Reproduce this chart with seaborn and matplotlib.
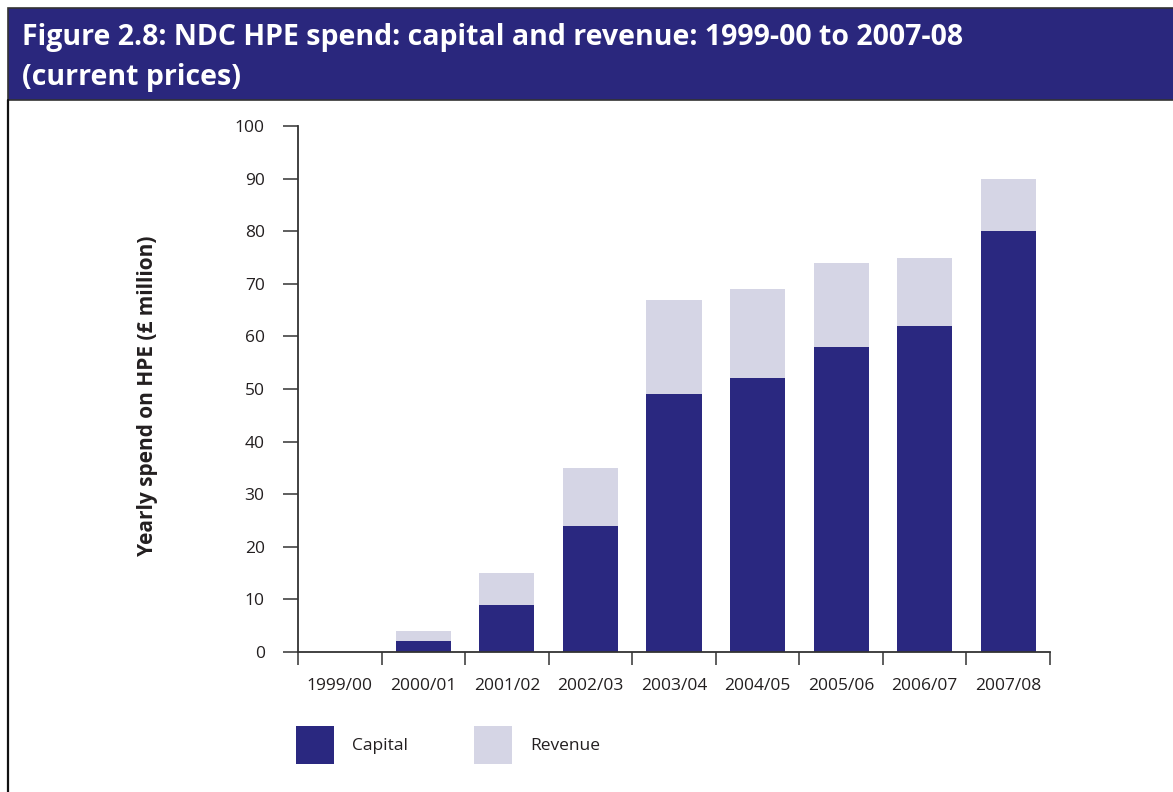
import matplotlib
matplotlib.use("Agg")
import matplotlib.pyplot as plt
from matplotlib.patches import Rectangle
from matplotlib.lines import Line2D
import seaborn as sns
import pandas as pd

# Data (£ million, current prices)
years = ["1999/00", "2000/01", "2001/02", "2002/03", "2003/04",
         "2004/05", "2005/06", "2006/07", "2007/08"]
capital = [0, 2, 9, 24, 49, 52, 58, 62, 80]
revenue = [0, 2, 6, 11, 18, 17, 16, 13, 10]
yticks = [0, 10, 20, 30, 40, 50, 60, 70, 80, 90, 100]

CAP_COLOR = "#2A2880"
REV_COLOR = "#D5D5E5"
TEXT_COLOR = "#231F20"

sns.set_theme(style="white")
plt.rcParams["font.family"] = ["Open Sans", "DejaVu Sans"]

df = pd.DataFrame({"year": years, "capital": capital, "revenue": revenue})
df["total"] = df["capital"] + df["revenue"]

fig = plt.figure(figsize=(11.73, 7.92), dpi=100)
ax = fig.add_axes([298 / 1173, 1 - 652 / 792, (1050 - 298) / 1173, (652 - 126) / 792])

# stacked bars: total (revenue on top) drawn first, capital over it
sns.barplot(data=df, x="year", y="total", color=REV_COLOR, width=0.66,
            saturation=1, linewidth=0, ax=ax, zorder=2)
sns.barplot(data=df, x="year", y="capital", color=CAP_COLOR, width=0.66,
            saturation=1, linewidth=0, ax=ax, zorder=3)

ax.set_xlim(-0.5, len(years) - 0.5)
ax.set_ylim(0, 100)
ax.set_yticks(yticks)
ax.set_yticklabels([str(v) for v in yticks])
ax.set_xlabel("")
ax.set_ylabel("")

for s in ["top", "right"]:
    ax.spines[s].set_visible(False)
for s in ["left", "bottom"]:
    ax.spines[s].set_color("#333333")
    ax.spines[s].set_linewidth(1.3)
ax.spines["bottom"].set_zorder(5)

ax.tick_params(axis="y", which="major", direction="out", length=11,
               width=1.1, color="#333333", pad=13, labelsize=12.5,
               labelcolor=TEXT_COLOR, left=True)
ax.tick_params(axis="x", which="major", length=0, pad=19, labelsize=12.5,
               labelcolor=TEXT_COLOR)
ax.set_xticks([i - 0.5 for i in range(len(years) + 1)], minor=True)
ax.tick_params(axis="x", which="minor", direction="out", length=9.5,
               width=1.1, color="#333333", bottom=True)

fig.text(147 / 1173, 1 - 396 / 792, "Yearly spend on HPE (£ million)",
         rotation=90, ha="center", va="center", fontsize=15,
         fontweight="bold", color=TEXT_COLOR)

# title banner and frame
fig.patches.append(Rectangle((8 / 1173, 1 - 100 / 792), 1.0, 92 / 792,
                             transform=fig.transFigure, facecolor="#2A277D",
                             edgecolor="#333333", linewidth=1.2, zorder=0))
fig.lines.append(Line2D([8 / 1173, 8 / 1173], [0, 1 - 100 / 792],
                        transform=fig.transFigure, color="#111111",
                        linewidth=1.6))
title_font = dict(ha="left", va="center", fontsize=20.5, fontweight="bold",
                  color="white", family=["Open Sans", "DejaVu Sans"])
fig.text(22 / 1173, 1 - 38 / 792,
         "Figure 2.8: NDC HPE spend: capital and revenue: 1999-00 to 2007-08",
         **title_font)
fig.text(22 / 1173, 1 - 78 / 792, "(current prices)", **title_font)

# legend
for x0, label, col in [(296, "Capital", CAP_COLOR), (474, "Revenue", REV_COLOR)]:
    fig.patches.append(Rectangle((x0 / 1173, 1 - 764 / 792), 38 / 1173, 38 / 792,
                                 transform=fig.transFigure, facecolor=col,
                                 edgecolor="none"))
    fig.text((x0 + 56) / 1173, 1 - 746 / 792, label, ha="left", va="center",
             fontsize=12.5, color=TEXT_COLOR)

fig.savefig("out.png", dpi=100)
